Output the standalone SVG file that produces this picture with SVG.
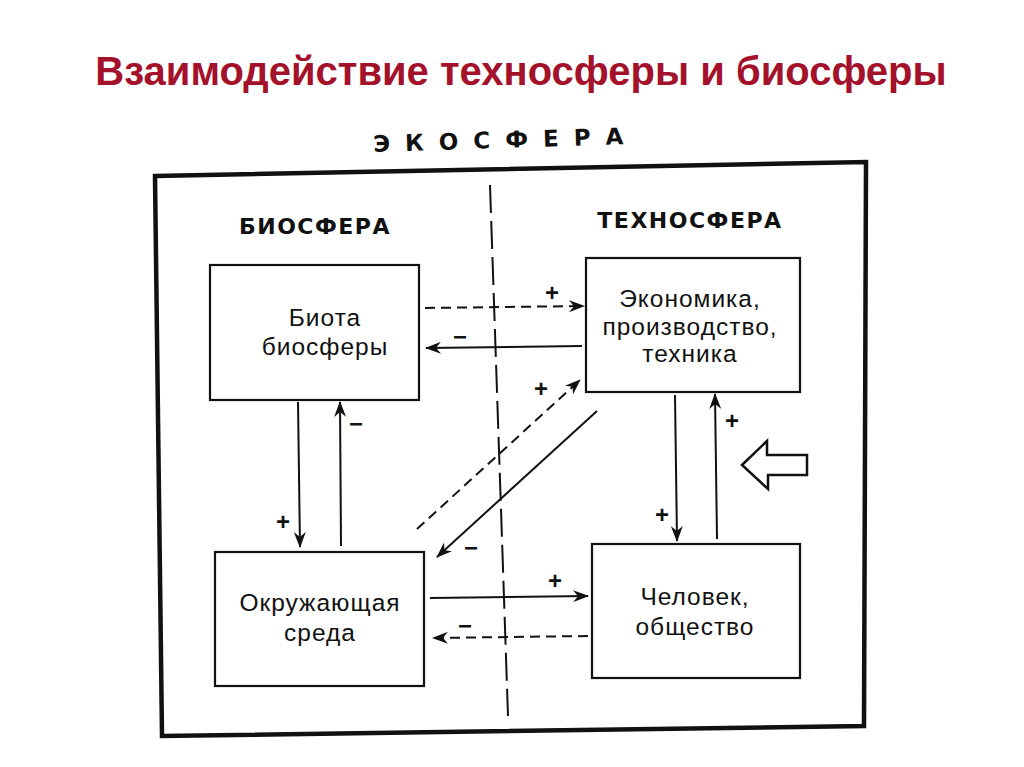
<svg xmlns="http://www.w3.org/2000/svg" width="1024" height="767" viewBox="0 0 1024 767">
<defs>
<style>
.title{font-family:"Liberation Sans",Arial,sans-serif;font-weight:bold;font-size:40px;fill:#A3122A}
.hdr{font-family:"DejaVu Sans","Liberation Sans",sans-serif;font-weight:bold;font-size:22px;fill:#111;letter-spacing:1.5px}
.eco{font-family:"DejaVu Sans","Liberation Sans",sans-serif;font-weight:bold;font-size:23px;fill:#111}
.lbl{font-family:"Liberation Sans",Arial,sans-serif;font-size:24.5px;fill:#111;letter-spacing:1px}
.sign{font-family:"Liberation Sans",Arial,sans-serif;font-weight:bold;font-size:24px;fill:#111}
.box{fill:none;stroke:#111;stroke-width:2.2}
.con{fill:none;stroke:#111;stroke-width:2}
.dash{stroke-dasharray:10 6}
</style>
<marker id="ah" viewBox="0 0 16 12" refX="15" refY="6" markerWidth="16" markerHeight="12" markerUnits="userSpaceOnUse" orient="auto">
<path d="M0,0 L16,6 L0,12 L5,6 z" fill="#111"/>
</marker>
</defs>
<rect width="1024" height="767" fill="#fff"/>
<text class="title" x="521" y="85" text-anchor="middle">Взаимодействие техносферы и биосферы</text>
<text class="eco" x="500" y="148" text-anchor="middle" letter-spacing="3.5" transform="rotate(-1.8 500 140)">Э К О С Ф Е Р А</text>

<g id="ecosphere">
<polygon points="155,176 866,162 864,726 162,736" fill="none" stroke="#111" stroke-width="4.5"/>
<line x1="490" y1="185" x2="508" y2="716" stroke="#111" stroke-width="2" stroke-dasharray="28 8"/>
</g>
<g id="biosphere-label"><text class="hdr" x="315" y="234" text-anchor="middle">БИОСФЕРА</text></g>
<g id="technosphere-label"><text class="hdr" x="690" y="228" text-anchor="middle">ТЕХНОСФЕРА</text></g>

<g id="biota">
<rect class="box" x="210" y="265" width="209" height="135"/>
<text class="lbl" x="325" y="326" text-anchor="middle">Биота</text>
<text class="lbl" x="325" y="355" text-anchor="middle">биосферы</text>
</g>
<g id="economy">
<rect class="box" x="586" y="258" width="214" height="134"/>
<text class="lbl" x="690" y="307" text-anchor="middle">Экономика,</text>
<text class="lbl" x="690" y="335" text-anchor="middle">производство,</text>
<text class="lbl" x="690" y="362" text-anchor="middle">техника</text>
</g>
<g id="environment">
<rect class="box" x="215" y="552" width="209" height="134"/>
<text class="lbl" x="320" y="611" text-anchor="middle">Окружающая</text>
<text class="lbl" x="320" y="641" text-anchor="middle">среда</text>
</g>
<g id="society">
<rect class="box" x="592" y="544" width="208" height="134"/>
<text class="lbl" x="695" y="605" text-anchor="middle">Человек,</text>
<text class="lbl" x="695" y="635" text-anchor="middle">общество</text>
</g>
<g id="external-input">
<polygon points="742,465 767,441 767,455 807,455 807,475 768,475 768,489" fill="#fff" stroke="#111" stroke-width="2.5" stroke-linejoin="miter"/>
</g>

<g id="connectors">
<line class="con dash" x1="425" y1="308" x2="584" y2="306" marker-end="url(#ah)"/>
<line class="con" x1="582" y1="346" x2="426" y2="348" marker-end="url(#ah)"/>
<line class="con dash" x1="417" y1="529" x2="580" y2="380" marker-end="url(#ah)"/>
<line class="con" x1="597" y1="411" x2="437" y2="557" marker-end="url(#ah)"/>
<line class="con" x1="298" y1="402" x2="300" y2="547" marker-end="url(#ah)"/>
<line class="con" x1="341" y1="546" x2="340" y2="402" marker-end="url(#ah)"/>
<line class="con" x1="675" y1="395" x2="677" y2="541" marker-end="url(#ah)"/>
<line class="con" x1="717" y1="539" x2="715" y2="394" marker-end="url(#ah)"/>
<line class="con" x1="430" y1="598" x2="588" y2="596" marker-end="url(#ah)"/>
<line class="con dash" x1="588" y1="636" x2="433" y2="638" marker-end="url(#ah)"/>
<g id="signs">
<text class="sign" x="552" y="301" text-anchor="middle">+</text>
<text class="sign" x="460" y="345" text-anchor="middle">−</text>
<text class="sign" x="541" y="397" text-anchor="middle">+</text>
<text class="sign" x="471" y="556" text-anchor="middle">−</text>
<text class="sign" x="283" y="530" text-anchor="middle">+</text>
<text class="sign" x="356" y="432" text-anchor="middle">−</text>
<text class="sign" x="662" y="523" text-anchor="middle">+</text>
<text class="sign" x="732" y="429" text-anchor="middle">+</text>
<text class="sign" x="555" y="589" text-anchor="middle">+</text>
<text class="sign" x="465" y="634" text-anchor="middle">−</text>
</g>
</g>
</svg>
